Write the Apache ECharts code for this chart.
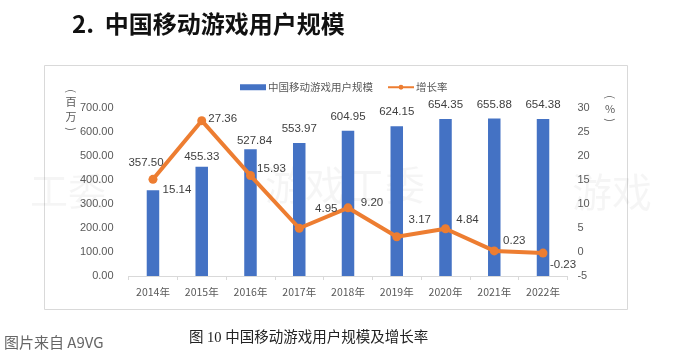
<!DOCTYPE html>
<html>
<head>
<meta charset="utf-8">
<script src="https://cdn.jsdelivr.net/npm/echarts@6/dist/echarts.min.js"></script>
<style>
html,body{margin:0;padding:0;background:#fff;}
#c{width:682px;height:358px;}
</style>
</head>
<body>
<div id="c"></div>
<script>
// ---- data ----
const categories = ['2014年','2015年','2016年','2017年','2018年','2019年','2020年','2021年','2022年'];
const users = [357.50, 455.33, 527.84, 553.97, 604.95, 624.15, 654.35, 655.88, 654.38];
const growth = [15.14, 27.36, 15.93, 4.95, 9.20, 3.17, 4.84, 0.23, -0.23];
const leftTicks = [0, 700, 100];
const rightTicks = [-5, 30, 5];

// ---- label placement (style, not data) ----
const barLabelOffset = [[-7,-22],[0,-4],[4,-3],[0,-8],[0,-8],[0,-9],[0,-8],[0,-8],[0,-8]];
const rateLabelOffset = [[24,11],[21,-2],[21,-7],[27,-19],[24,-5],[23,-17],[22,-9],[20,-10],[20,12]];

const numFont = "'Liberation Sans','Noto Sans CJK SC',sans-serif";
const cjkFont = "'Noto Sans CJK SC','Liberation Sans',sans-serif";

function vChar(ch, x, y, size, extra){
  return Object.assign({type:'text', x:x, y:y, silent:true,
    style:{text:ch, fontFamily:cjkFont, fontSize:size, fill:'#595959', align:'center', verticalAlign:'middle'}}, extra||{});
}

const chart = echarts.init(document.getElementById('c'), null, {renderer:'canvas'});
chart.setOption({
  backgroundColor:'#fff',
  animation:false,
  grid:{left:128.6, right:114.6, top:108, bottom:82, containLabel:false},
  legend:{
    left:235, top:77,
    itemGap:14,
    itemWidth:26, itemHeight:6,
    textStyle:{fontFamily:cjkFont, fontSize:10.5, color:'#595959', padding:[0,0,0,-3]},
    data:[
      {name:'中国移动游戏用户规模', icon:'rect'},
      {name:'增长率'}
    ]
  },
  xAxis:{
    type:'category',
    data:categories,
    boundaryGap:true,
    axisLine:{lineStyle:{color:'#d9d9d9', width:1}},
    axisTick:{show:true, length:4, lineStyle:{color:'#d9d9d9'}},
    axisLabel:{fontFamily:cjkFont, fontSize:10.5, color:'#595959', margin:11}
  },
  yAxis:[
    {
      type:'value', min:leftTicks[0], max:leftTicks[1], interval:leftTicks[2],
      axisLine:{show:false}, axisTick:{show:false}, splitLine:{show:false},
      axisLabel:{fontFamily:numFont, fontSize:11, color:'#595959', margin:15,
        formatter:v=>v.toFixed(2)}
    },
    {
      type:'value', min:rightTicks[0], max:rightTicks[1], interval:rightTicks[2],
      axisLine:{show:false}, axisTick:{show:false}, splitLine:{show:false},
      axisLabel:{fontFamily:numFont, fontSize:11, color:'#595959', margin:10}
    }
  ],
  series:[
    {
      name:'中国移动游戏用户规模',
      type:'bar',
      yAxisIndex:0,
      barWidth:12.5,
      itemStyle:{color:'#4472C4'},
      data:users.map((v,i)=>({
        value:v,
        label:{show:true, position:'top', distance:0, offset:barLabelOffset[i]}
      })),
      label:{show:true, fontFamily:numFont, fontSize:11.5, color:'#404040',
        formatter:p=>p.value.toFixed(2)},
      z:2
    },
    {
      name:'增长率',
      type:'line',
      yAxisIndex:1,
      symbol:'circle',
      symbolSize:9,
      lineStyle:{color:'#ED7D31', width:4},
      itemStyle:{color:'#ED7D31'},
      data:growth.map((v,i)=>({
        value:v,
        label:{show:true, position:[4.5+rateLabelOffset[i][0], 4.5+rateLabelOffset[i][1]],
          align:'center', verticalAlign:'middle'}
      })),
      label:{show:true, fontFamily:numFont, fontSize:11.5, color:'#404040',
        formatter:p=>p.value.toFixed(2)},
      z:5
    }
  ],
  graphic:[
    {type:'rect', shape:{x:44.5, y:65.5, width:583, height:244}, style:{fill:'none', stroke:'#d9d9d9', lineWidth:1}, silent:true, z:-10},
    {type:'text', left:72, top:12, style:{text:'2.  中国移动游戏用户规模', fontFamily:cjkFont, fontSize:24, fontWeight:'bold', fill:'#111'}},
    vChar('(', 71, 91, 11, {rotation:-Math.PI/2}),
    vChar('百', 71, 102, 11),
    vChar('万', 71, 117, 11),
    vChar(')', 71, 129, 11, {rotation:-Math.PI/2}),
    vChar('(', 610, 97, 11, {rotation:-Math.PI/2}),
    vChar('%', 610, 109, 11),
    vChar(')', 610, 120, 11, {rotation:-Math.PI/2}),
    {type:'text', left:189, top:331, style:{text:'图 10 中国移动游戏用户规模及增长率', fontFamily:"'Liberation Serif','Noto Sans CJK SC',serif", fontSize:14.5, fill:'#222'}},
    {type:'text', left:4, top:335, style:{text:'图片来自 A9VG', fontFamily:cjkFont, fontSize:15, fill:'#666'}},
    {type:'text', left:30, top:172, style:{text:'工委', fontFamily:cjkFont, fontSize:38, fill:'rgba(0,0,0,0.04)'}, z:-5, silent:true},
    {type:'text', left:265, top:165, style:{text:'游戏工委', fontFamily:cjkFont, fontSize:40, fill:'rgba(0,0,0,0.04)'}, z:-5, silent:true},
    {type:'text', left:572, top:172, style:{text:'游戏', fontFamily:cjkFont, fontSize:40, fill:'rgba(0,0,0,0.04)'}, z:-5, silent:true}
  ]
});
</script>
</body>
</html>
